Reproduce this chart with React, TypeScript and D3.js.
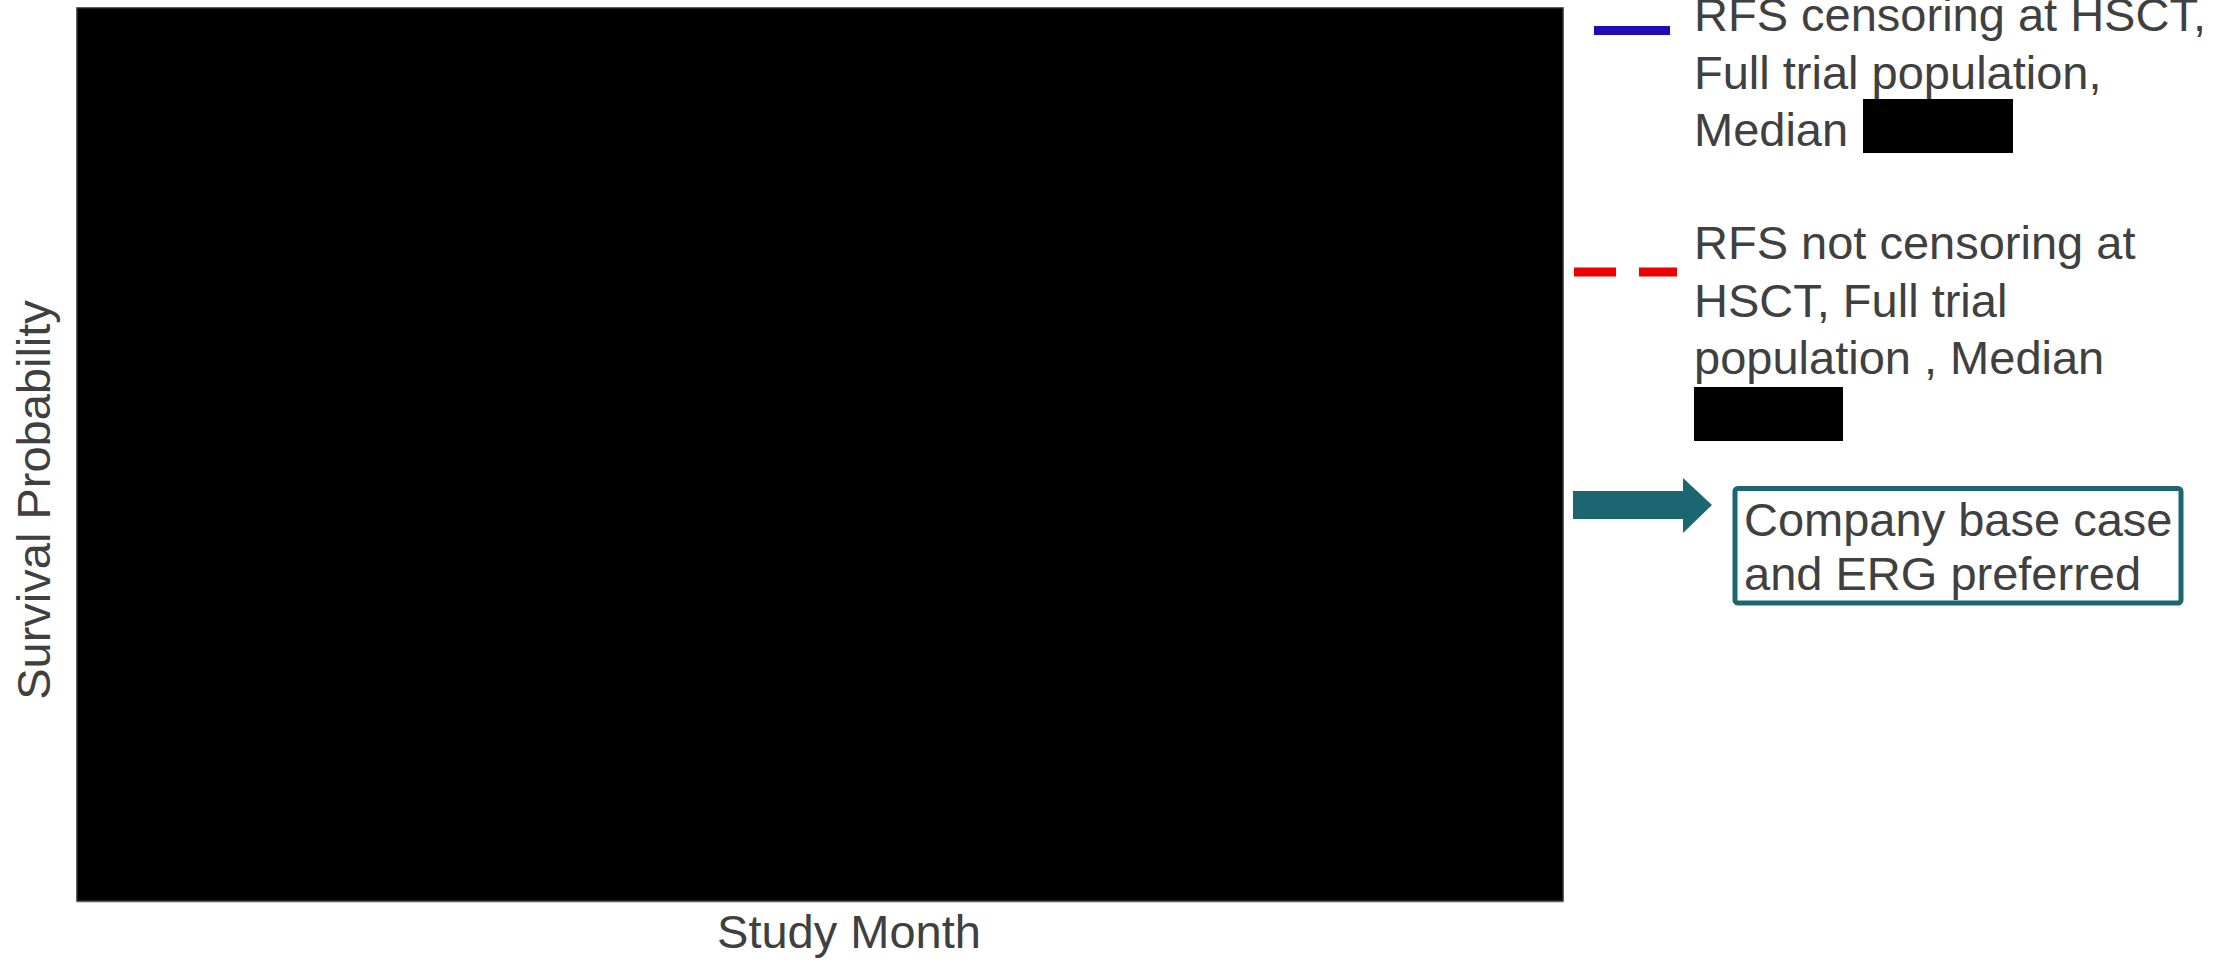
import React from "react";
import * as d3 from "d3";

// ---- data (plot content is redacted in the source) ----
const xDomain: [number, number] = [0, 60];
const yDomain: [number, number] = [0, 1];
const xTitle = "Study Month";
const yTitle = "Survival Probability";

const legendNames = ["RFS censoring", "RFS not censoring"];
const legendLines: string[][] = [
  ["RFS censoring at HSCT,", "Full trial population,", "Median "],
  ["RFS not censoring at", "HSCT, Full trial", "population , Median", ""],
];
const legendColors = ["#1f0cb4", "#ee0000"];
const legendDash = ["", "42,23"];
const noteLines = ["Company base case", "and ERG preferred"];

const W = 2223;
const H = 969;
const FONT = "'Liberation Sans', Arial, sans-serif";
const TXT = "#404040";
const TEAL = "#1b6670";

export default function App() {
  const x = d3.scaleLinear().domain(xDomain).range([77, 1563]);
  const y = d3.scaleLinear().domain(yDomain).range([901, 8]);
  const [x0, x1] = x.range();
  const [yb, yt] = y.range();

  const lineH = 57.5;
  const legendTops = [31, 259];
  const textX = 1694;
  const fs = 47;

  return (
    <svg
      width={W}
      height={H}
      style={{ position: "absolute", left: 0, top: 0, background: "#fff" }}
      fontFamily={FONT}
    >
      {/* redacted plot area */}
      <rect
        x={x0}
        y={yt}
        width={x1 - x0}
        height={yb - yt}
        fill="#000"
        stroke="#2e2e2e"
        strokeWidth={1.5}
      />
      <line x1={x0} x2={x1} y1={yb + 1.5} y2={yb + 1.5} stroke="#cfcfcf" strokeWidth={1} />

      {/* axis titles */}
      <text x={849} y={948} fontSize={fs} fill={TXT} textAnchor="middle">
        {xTitle}
      </text>
      <text
        transform={`translate(50,500) rotate(-90)`}
        fontSize={fs}
        fill={TXT}
        textAnchor="middle"
      >
        {yTitle}
      </text>

      {/* legend */}
      {legendNames.map((name, i) => {
        const ly = i === 0 ? 30.5 : 272;
        const lx0 = i === 0 ? 1594 : 1574;
        const lx1 = i === 0 ? 1670 : 1677;
        return (
          <g key={name}>
            <line
              x1={lx0}
              x2={lx1}
              y1={ly}
              y2={ly}
              stroke={legendColors[i]}
              strokeWidth={9}
              strokeDasharray={legendDash[i] || undefined}
            />
            {legendLines[i].map((t, j) => (
              <text
                key={j}
                x={textX}
                y={legendTops[i] + j * lineH}
                fontSize={fs}
                fill={TXT}
              >
                {t}
              </text>
            ))}
          </g>
        );
      })}
      {/* redacted medians */}
      <rect x={1863} y={99} width={150} height={54} fill="#000" />
      <rect x={1694} y={387} width={149} height={54} fill="#000" />

      {/* arrow + note box */}
      <path
        d="M1573,491 L1683,491 L1683,478 L1712,505 L1683,533 L1683,519 L1573,519 Z"
        fill={TEAL}
      />
      <rect
        x={1735}
        y={488.5}
        width={446}
        height={114.5}
        rx={3}
        fill="#fff"
        stroke={TEAL}
        strokeWidth={5}
      />
      {noteLines.map((t, j) => (
        <text key={j} x={1744} y={536 + j * 54} fontSize={fs} fill={TXT}>
          {t}
        </text>
      ))}
    </svg>
  );
}
